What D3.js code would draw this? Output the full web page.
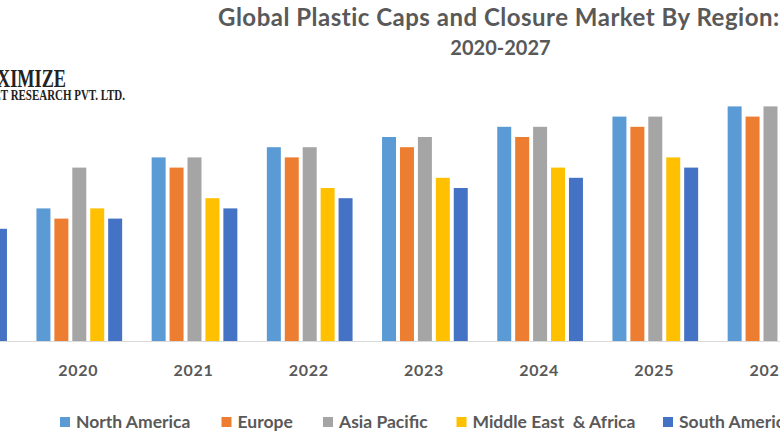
<!DOCTYPE html>
<html>
<head>
<meta charset="utf-8">
<script src="https://cdnjs.cloudflare.com/ajax/libs/d3/7.8.5/d3.min.js"></script>
<style>
  html, body { margin: 0; padding: 0; background: #fff; overflow: hidden; }
  text { font-family: Lato, "Open Sans", sans-serif; fill: #595959; }
</style>
</head>
<body>
<div id="chart"></div>
<script>
// the picture is a crop, so 2019 and 2026 are only partly visible; null = cut off, not readable
var years = ['2019', '2020', '2021', '2022', '2023', '2024', '2025', '2026'];
var regions = ['North America', 'Europe', 'Asia Pacific', 'Middle East  & Africa', 'South America'];
var colors = ['#5B9BD5', '#ED7D31', '#A5A5A5', '#FFC000', '#4472C4'];

var northAmerica = [null, 13, 18, 19, 20, 21, 22, 23];
var europe       = [null, 12, 17, 18, 19, 20, 21, 22];
var asiaPacific  = [null, 17, 18, 19, 20, 21, 22, 23];
var middleEast   = [null, 13, 14, 15, 16, 17, 18, null];
var southAmerica = [11,   12, 13, 14, 15, 16, 17, null];
var seriesValues = [northAmerica, europe, asiaPacific, middleEast, southAmerica];

var width = 780, height = 440;

var svg = d3.select('#chart').append('svg')
    .attr('width', width)
    .attr('height', height)
    .style('display', 'block');

var x0 = d3.scaleBand().domain(years).range([-93.5, 828.1]);
var x1 = d3.scaleBand().domain(regions)
    .range([(x0.bandwidth() - 85.7) / 2, (x0.bandwidth() + 85.7) / 2])
    .paddingInner(0.22);
var y = d3.scaleLinear().domain([0, 25]).range([341, 86]);

// bars
var groups = svg.selectAll('.series')
    .data(regions)
  .enter().append('g')
    .attr('class', 'series')
    .attr('fill', function(d, i) { return colors[i]; });

groups.each(function(region, i) {
  d3.select(this).selectAll('rect')
      .data(years.map(function(year, j) { return {year: year, value: seriesValues[i][j]}; })
        .filter(function(d) { return d.value !== null; }))
    .enter().append('rect')
      .attr('x', function(d) { return x0(d.year) + x1(region); })
      .attr('y', function(d) { return y(d.value); })
      .attr('width', x1.bandwidth())
      .attr('height', function(d) { return y(0) - y(d.value); });
});

// x axis
var axis = svg.append('g')
    .attr('transform', 'translate(0,' + y(0) + ')')
    .call(d3.axisBottom(x0).tickSize(0).tickPadding(24));
axis.select('.domain').attr('stroke', '#D9D9D9').attr('stroke-width', 1);
axis.selectAll('text')
    .attr('dx', -1)
    .style('font-family', 'Lato, "Open Sans", sans-serif')
    .style('font-size', '16px')
    .style('font-weight', 700)
    .style('letter-spacing', '0.7px');

// title
svg.append('text')
    .attr('x', 218)
    .attr('y', 26)
    .style('font-size', '24px')
    .style('font-weight', 700)
    .style('letter-spacing', '0.5px')
    .text('Global Plastic Caps and Closure Market By Region:');
svg.append('text')
    .attr('x', 500.5)
    .attr('y', 55)
    .attr('text-anchor', 'middle')
    .style('font-size', '20px')
    .style('font-weight', 700)
    .text('2020-2027');

// logo, runs off the left edge
svg.append('text')
    .attr('transform', 'translate(66,87) scale(0.73,1)')
    .attr('text-anchor', 'end')
    .style('font-family', '"Liberation Serif", serif')
    .style('font-size', '25px')
    .style('font-weight', 700)
    .style('fill', '#222')
    .text('MAXIMIZE');
svg.append('text')
    .attr('transform', 'translate(125,100) scale(0.73,1)')
    .attr('text-anchor', 'end')
    .style('font-family', '"Liberation Serif", serif')
    .style('font-size', '15px')
    .style('font-weight', 700)
    .style('fill', '#222')
    .text('MARKET RESEARCH PVT. LTD.');

// legend
var legendX = d3.scaleOrdinal().domain(regions).range([60, 221.5, 323, 456.5, 663]);

var legend = svg.selectAll('.legend')
    .data(regions)
  .enter().append('g')
    .attr('class', 'legend')
    .attr('transform', function(d) { return 'translate(' + legendX(d) + ',417)'; });

legend.append('rect')
    .attr('width', 10)
    .attr('height', 10)
    .attr('fill', function(d, i) { return colors[i]; });

legend.append('text')
    .attr('x', 16)
    .attr('y', 11)
    .style('font-size', '17.5px')
    .style('font-weight', 700)
    .style('white-space', 'pre')
    .text(function(d) { return d; });
</script>
</body>
</html>
